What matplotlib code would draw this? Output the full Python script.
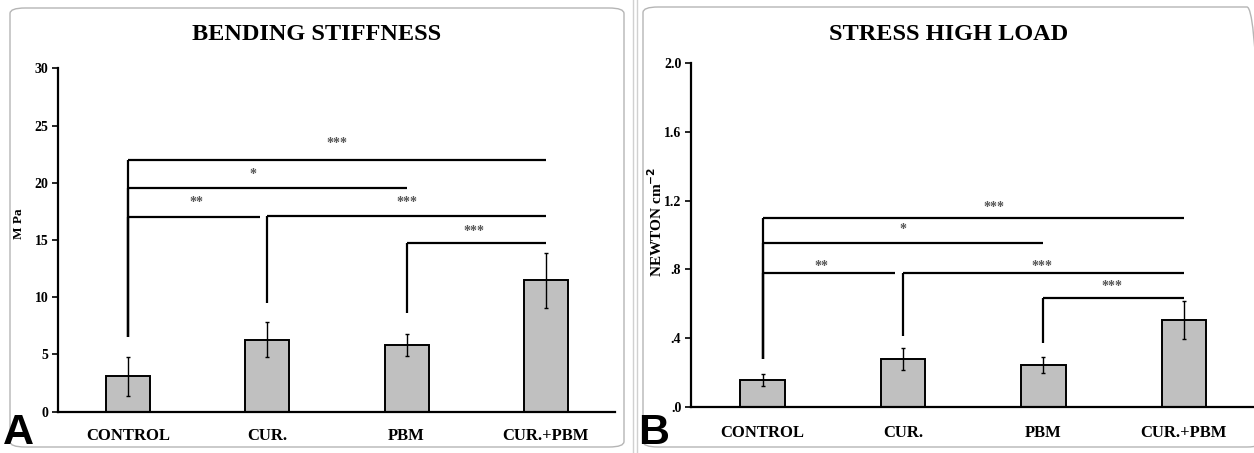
import matplotlib
matplotlib.use("Agg")
import matplotlib.pyplot as plt
from matplotlib.patches import FancyBboxPatch
from matplotlib.lines import Line2D

categories = ["CONTROL", "CUR.", "PBM", "CUR.+PBM"]
stiffness = [3.1, 6.3, 5.8, 11.5]
stiffness_err = [1.7, 1.5, 0.95, 2.4]
stress = [0.155, 0.278, 0.243, 0.505]
stress_err = [0.036, 0.065, 0.048, 0.11]

stiff_ticks = [0, 5, 10, 15, 20, 25, 30]
stiff_ticklabels = ["0", "5", "10", "15", "20", "25", "30"]
stress_ticks = [0, 0.4, 0.8, 1.2, 1.6, 2.0]
stress_ticklabels = [".0", ".4", ".8", "1.2", "1.6", "2.0"]

# brackets: (start, end, line_y, label, label_x, label_y, stem_bottom)
stiff_brackets = [
    (0, 3, 22.0, "***", 1.5, 23.4, 6.5),
    (0, 2, 19.5, "*", 0.9, 20.7, 6.5),
    (0, 0.95, 17.0, "**", 0.49, 18.3, 6.5),
    (1, 3, 17.1, "***", 2.0, 18.3, 9.5),
    (2, 3, 14.7, "***", 2.48, 15.7, 8.6),
]
stress_brackets = [
    (0, 3, 1.10, "***", 1.65, 1.16, 0.28),
    (0, 2, 0.955, "*", 1.0, 1.03, 0.28),
    (0, 0.94, 0.777, "**", 0.42, 0.818, 0.28),
    (1, 3, 0.777, "***", 1.99, 0.818, 0.41),
    (2, 3, 0.635, "***", 2.49, 0.70, 0.37),
]

W, H = 1254, 453
fig = plt.figure(figsize=(W / 100, H / 100), dpi=100)
serif = "Liberation Serif"

# panel frames
for (x0, y0, x1, y1) in [(10, 8, 624, 447), (643, 7, 1262, 447)]:
    fig.patches.append(FancyBboxPatch((x0 / W, 1 - y1 / H), (x1 - x0) / W, (y1 - y0) / H,
                                      boxstyle="round,pad=0,rounding_size=0.012",
                                      transform=fig.transFigure, fill=False,
                                      edgecolor="#b5b5b5", linewidth=1.0, zorder=0))
for xl in (633, 636.5):
    fig.lines.append(Line2D([xl / W, xl / W], [0, 1], transform=fig.transFigure,
                            color="#d0d0d0", linewidth=1.0))


def panel(rect, values, errs, ticks, ticklabels, ylim, brackets, title, title_x,
          ylabel, ylabel_x, ylabel_y, ylabel_size, letter, letter_x, xpad, xlim):
    ax = fig.add_axes(rect)
    x = list(range(len(categories)))
    ax.bar(x, values, width=0.315, color="#c0c0c0", edgecolor="black", linewidth=1.4, zorder=2)
    ax.errorbar(x, values, yerr=errs, fmt="none", ecolor="black", elinewidth=1.0,
                capsize=1.5, capthick=1.0, zorder=3)
    ax.set_xlim(*xlim)
    ax.set_ylim(*ylim)
    ax.set_yticks(ticks)
    ax.set_yticklabels(ticklabels, fontfamily=serif, fontweight="bold", fontsize=10)
    ax.set_xticks(x)
    ax.set_xticklabels(categories, fontfamily=serif, fontweight="bold", fontsize=12)
    ax.tick_params(axis="x", length=0, pad=xpad)
    ax.tick_params(axis="y", length=4, width=1.2, pad=3)
    for s in ["top", "right"]:
        ax.spines[s].set_visible(False)
    ax.spines["left"].set_linewidth(1.6)
    ax.spines["bottom"].set_linewidth(1.6)
    ax.patch.set_alpha(0)
    for (a, b, y, lab, lx, ly, stem) in brackets:
        ax.plot([a, b], [y, y], color="black", linewidth=1.6, zorder=4, solid_capstyle="butt")
        ax.plot([a, a], [stem, y], color="black", linewidth=1.6, zorder=4, solid_capstyle="butt")
        ax.text(lx, ly, lab, ha="center", va="center", fontsize=10, fontweight="bold",
                color="#555555", fontfamily=serif)
    fig.text(title_x / W, 1 - 34 / H, title, ha="center", va="center", fontfamily=serif,
             fontweight="bold", fontsize=17.5)
    fig.text(ylabel_x / W, 1 - ylabel_y / H, ylabel, ha="center", va="center", rotation=90,
             fontfamily=serif, fontweight="bold", fontsize=ylabel_size)
    fig.text(letter_x / W, 1 - 452.5 / H, letter, ha="left", va="bottom",
             fontfamily="Liberation Sans", fontweight="bold", fontsize=31)
    return ax


panel([58 / W, 1 - 411.7 / H, (615 - 58) / W, (411.7 - 68.3) / H], stiffness, stiffness_err,
      stiff_ticks, stiff_ticklabels, (0, 30), stiff_brackets, "BENDING STIFFNESS", 317,
      "M Pa", 19, 224, 9.5, "A", 3, 12, (-0.5025, 3.496))
panel([691 / W, 1 - 406.7 / H, (1254 - 691) / W, (406.7 - 63.3) / H], stress, stress_err,
      stress_ticks, stress_ticklabels, (0, 2.0), stress_brackets, "STRESS HIGH LOAD", 949,
      r"NEWTON cm$^{\mathbf{-2}}$", 656, 222, 11, "B", 638, 13, (-0.51, 3.5))

fig.savefig("out.png", dpi=100)
